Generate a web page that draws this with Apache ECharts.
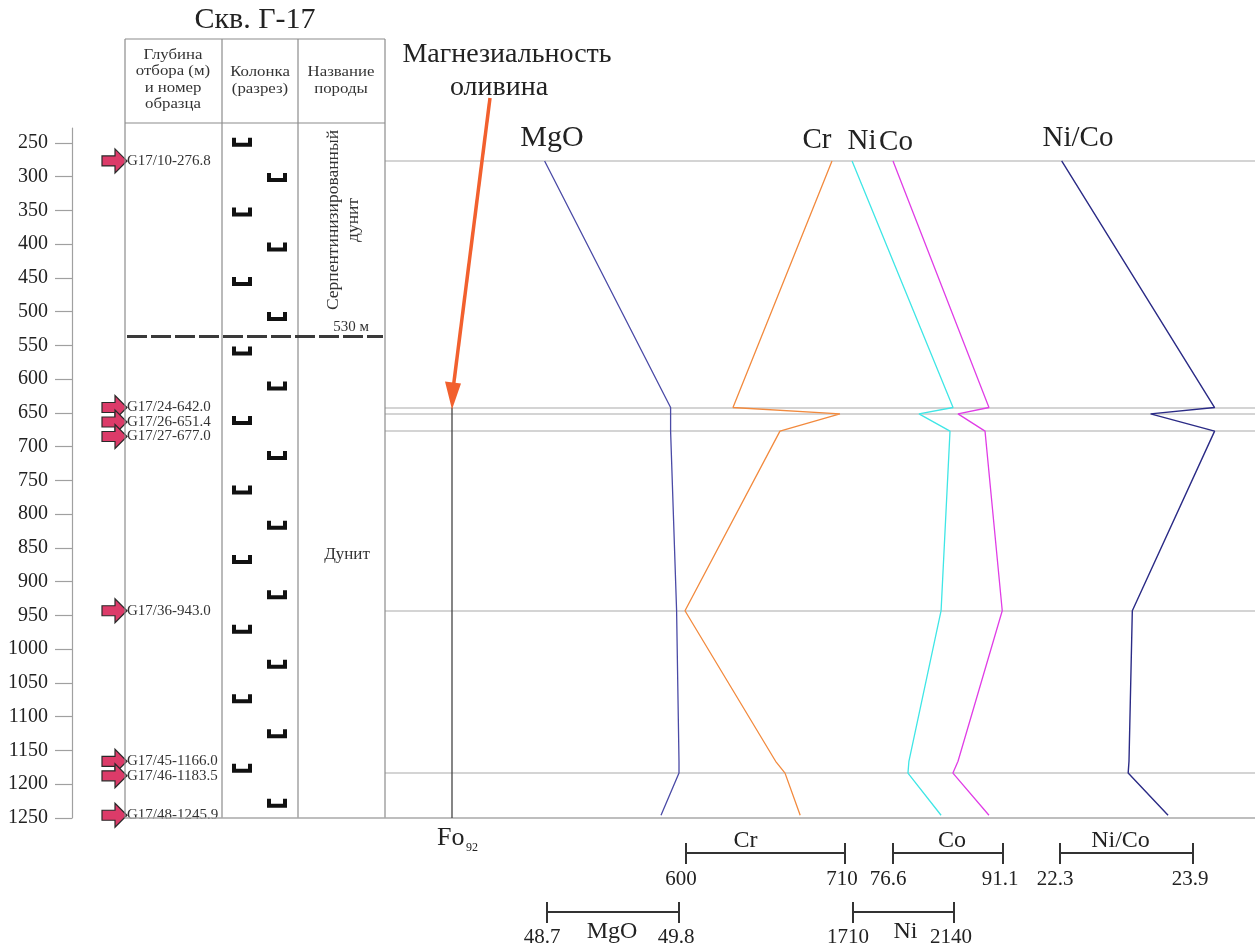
<!DOCTYPE html>
<html><head><meta charset="utf-8">
<script src="https://cdn.jsdelivr.net/npm/echarts@6/dist/echarts.min.js"></script>
<style>html,body{margin:0;padding:0;background:#fff}#c{width:1255px;height:948px}</style>
</head><body><div id="c"></div>
<script>
// ---------------- DATA ----------------
const depthTicks = [250,300,350,400,450,500,550,600,650,700,750,800,850,900,950,1000,1050,1100,1150,1200,1250];
const sampleDepths = [276.8, 642.0, 651.4, 677.0, 943.0, 1166.0, 1183.5, 1245.9];
const sampleNames = ['G17/10-276.8','G17/24-642.0','G17/26-651.4','G17/27-677.0','G17/36-943.0','G17/45-1166.0','G17/46-1183.5','G17/48-1245.9'];
const mgoValues  = [48.68, 49.73, 49.73, 49.73, 49.78, 49.80, 49.80, 49.65];
const crValues   = [701, 632.5, 706.5, 665, 599.3, 662, 668.5, 679];
const niValues   = [1706, 2136, 1991, 2123, 2085, 1948, 1944, 2085];
const coValues   = [76.6, 89.25, 85.17, 88.73, 91.0, 85.17, 84.5, 89.25];
const niCoValues = [22.32, 24.16, 23.39, 24.16, 23.17, 23.13, 23.12, 23.6];
const markerDepths = [276.8, 642.0, 651.4, 677.0, 943.0, 1183.5];
const columnLeftDepths  = [250, 353, 456, 559, 662, 765, 868, 971, 1074, 1177];
const columnRightDepths = [302, 405, 508, 611, 714, 817, 920, 1023, 1126, 1229];
const boundaryDepth = 537;      // drawn boundary, labelled "530 м"
const boundaryLabel = '530 м';
const foStartDepth = 642;
const mgoScale  = [48.7, 49.8];
const crScale   = [600, 710];
const niScale   = [1710, 2140];
const coScale   = [76.6, 91.1];
const niCoScale = [22.3, 23.9];

// ---------------- LAYOUT ----------------
const FONT = "'Liberation Serif','DejaVu Serif',serif";
const TOP = 128, BOTTOM = 130, PANEL_L = 385, W = 1255;
const PANEL_W = W - PANEL_L;
// pixel positions of the scale-bar ends (layout)
const barPix = {mgo:[547,679], cr:[686,845], ni:[853,954], co:[893,1003], nico:[1060,1193]};
function axisRange(vals, pix){
  const k = (pix[1]-pix[0])/(vals[1]-vals[0]);
  const min = vals[0] - (pix[0]-PANEL_L)/k;
  return {min: min, max: min + PANEL_W/k};
}
const rMgo = axisRange(mgoScale, barPix.mgo), rCr = axisRange(crScale, barPix.cr),
      rNi = axisRange(niScale, barPix.ni), rCo = axisRange(coScale, barPix.co),
      rNiCo = axisRange(niCoScale, barPix.nico);

const chart = echarts.init(document.getElementById('c'), null, {renderer:'canvas'});

function pairs(vals){ return vals.map((v,i)=>[v, sampleDepths[i]]); }
function lineSeries(name, vals, xi, color, width){
  return {name, type:'line', xAxisIndex:xi, yAxisIndex:1, data:pairs(vals), symbol:'none',
    lineStyle:{color, width}, silent:true, animation:false, z:3};
}

let lastLabelY = -1e9;
function renderSamples(params, api){
  const i = api.value(2);
  let y = api.coord([0, api.value(1)])[1];
  if (params.dataIndex === 0) lastLabelY = -1e9;
  if (y - lastLabelY < 14.5) y = lastLabelY + 14.5;
  lastLabelY = y;
  const xt = 127, x0 = xt - 25, xm = xt - 12;
  return {type:'group', children:[
    {type:'polygon', shape:{points:[[x0,y-5],[xm,y-5],[xm,y-12],[xt,y],[xm,y+12],[xm,y+5],[x0,y+5]]},
     style:{fill:'#dc3b69', stroke:'#2a2a2a', lineWidth:1.2}},
    {type:'text', x:xt, y:y, style:{text:sampleNames[i], font:'15px '+FONT, fill:'#333', verticalAlign:'middle', align:'left'}}
  ]};
}
function renderColumn(params, api){
  const y = api.coord([0, api.value(1)])[1];
  const x = api.value(2) === 0 ? 232 : 267;
  return {type:'polyline', shape:{points:[[x+2,y-5],[x+2,y+2],[x+18,y+2],[x+18,y-5]]},
    style:{stroke:'#111', lineWidth:4, fill:null}};
}
const columnData = columnLeftDepths.map(d=>[0,d,0]).concat(columnRightDepths.map(d=>[0,d,1]));

const option = {
  backgroundColor:'#fff',
  animation:false,
  grid:[{left:72, right:0, top:TOP, bottom:BOTTOM}, {left:PANEL_L, right:0, top:TOP, bottom:BOTTOM}],
  yAxis:[
    {gridIndex:0, type:'value', inverse:true, min:228, max:1250,
     axisLine:{show:true, lineStyle:{color:'#a0a0a0', width:1.2}},
     axisTick:{show:true, length:17, lineStyle:{color:'#a0a0a0', width:1.2}, customValues:depthTicks},
     axisLabel:{customValues:depthTicks, margin:24, fontFamily:FONT, fontSize:20, color:'#222', formatter: v => String(v)},
     splitLine:{show:false}},
    {gridIndex:1, type:'value', inverse:true, min:228, max:1250, show:false}
  ],
  xAxis:[
    {gridIndex:0, type:'value', min:0, max:1, show:false},
    {gridIndex:1, type:'value', min:rMgo.min, max:rMgo.max, show:false},
    {gridIndex:1, type:'value', min:rCr.min, max:rCr.max, show:false},
    {gridIndex:1, type:'value', min:rNi.min, max:rNi.max, show:false},
    {gridIndex:1, type:'value', min:rCo.min, max:rCo.max, show:false},
    {gridIndex:1, type:'value', min:rNiCo.min, max:rNiCo.max, show:false}
  ],
  series:[
    Object.assign(lineSeries('MgO', mgoValues, 1, '#4a4aa6', 1.3), {
      markLine:{silent:true, symbol:['none','none'], label:{show:false},
        lineStyle:{color:'#c6c6c6', width:1.6, type:'solid'},
        data: markerDepths.map(d=>({yAxis:d})), z:1}
    }),
    lineSeries('Cr', crValues, 2, '#f28a3e', 1.3),
    lineSeries('Ni', niValues, 3, '#3fe6e6', 1.3),
    lineSeries('Co', coValues, 4, '#e03de6', 1.3),
    lineSeries('Ni/Co', niCoValues, 5, '#2b2b86', 1.4),
    {type:'custom', xAxisIndex:0, yAxisIndex:0, renderItem:renderColumn, data:columnData, clip:false, silent:true, z:4},
    {type:'custom', xAxisIndex:0, yAxisIndex:0, renderItem:renderSamples, data:sampleDepths.map((d,i)=>[0,d,i]), clip:false, silent:true, z:5}
  ]
};
chart.setOption(option);

// ---------------- ANNOTATIONS ----------------
const yP = d => chart.convertToPixel({yAxisIndex:0}, d);
const xP = (ai, v) => chart.convertToPixel({xAxisIndex:ai}, v);
const G = [];
function line(x1,y1,x2,y2,stroke,lw,dash){ G.push({type:'line', shape:{x1,y1,x2,y2}, style:{stroke, lineWidth:lw, lineDash:dash||null}, silent:true, z:10}); }
function text(t,x,y,size,opts){ G.push(Object.assign({type:'text', x, y, style:Object.assign({text:t, font:size+'px '+FONT, fill:'#222', align:'center', verticalAlign:'middle'}, (opts&&opts.style)||{})}, (opts&&opts.el)||{}, {silent:true, z:11})); }

const yBottom = yP(1250);
const tableTop = 39, headBot = 123;
const cols = [125, 222, 298, PANEL_L];
// table
line(cols[0], tableTop, cols[3], tableTop, '#8c8c8c', 1.2);
line(cols[0], headBot, cols[3], headBot, '#8c8c8c', 1.2);
cols.forEach(x=>line(x, tableTop, x, yBottom, '#8c8c8c', 1.2));
line(cols[0], yBottom, W, yBottom, '#a8a8a8', 1.4);
// title & headers
text('Скв. Г-17', 255, 20, 30);
const hdr = {style:{lineHeight:16.5, fill:'#333'}, el:{scaleX:1.2}};
text('Глубина\nотбора (м)\nи номер\nобразца', 173, 80, 14, hdr);
text('Колонка\n(разрез)', 260, 81, 14, hdr);
text('Название\nпороды', 341, 81, 14, hdr);
// boundary
const yb = yP(boundaryDepth);
line(cols[0]+2, yb, cols[3]-2, yb, '#3a3a3a', 3, [20,4]);
text(boundaryLabel, 351, yb-10, 15, {style:{fill:'#333'}});
// rock names
text('Серпентинизированный\nдунит', 343, 220, 17.5, {style:{lineHeight:20, fill:'#333'}, el:{rotation:Math.PI/2}});
text('Дунит', 347, 555, 17, {style:{fill:'#333'}});
// Fo line and arrow
const foX = 452;
line(foX, yP(foStartDepth), foX, yBottom, '#444', 1.3);
line(490, 98, foX+1.5, yP(foStartDepth)-22, '#f2602e', 3.5);
G.push({type:'polygon', shape:{points:[[foX-7, yP(foStartDepth)-26],[foX+9, yP(foStartDepth)-24],[foX, yP(foStartDepth)+2]]}, style:{fill:'#f2602e'}, silent:true, z:11});
text('Магнезиальность', 507, 55, 28);
text('оливина', 499, 88, 28);
text('Fo', 437, 838, 26, {style:{align:'left'}});
text('92', 466, 848, 12, {style:{align:'left'}});
// curve titles
text('MgO', 552, 138, 30);
text('Cr', 817, 140, 29);
text('Ni', 862, 141, 29);
text('Co', 896, 142, 29);
text('Ni/Co', 1078, 138, 29);
// scale bars
function bar(ai, vals, y, name, nameDx, nameAbove, labY){
  const x1 = xP(ai, vals[0]), x2 = xP(ai, vals[1]);
  line(x1, y, x2, y, '#333', 2);
  line(x1, y-10, x1, y+11, '#333', 2);
  line(x2, y-10, x2, y+11, '#333', 2);
  if (nameAbove) text(name, (x1+x2)/2 + nameDx, y-12, 24);
  else text(name, (x1+x2)/2 + nameDx, y+20, 24);
  text(String(vals[0]), x1-5, labY, 21);
  text(String(vals[1]), x2-3, labY, 21);
}
bar(2, crScale, 853, 'Cr', -20, true, 879);
bar(4, coScale, 853, 'Co', 4, true, 879);
bar(5, niCoScale, 853, 'Ni/Co', -6, true, 879);
bar(1, mgoScale, 912, 'MgO', -1, false, 937);
bar(3, niScale, 912, 'Ni', 2, false, 937);

chart.setOption({graphic: G});
</script>
</body></html>
